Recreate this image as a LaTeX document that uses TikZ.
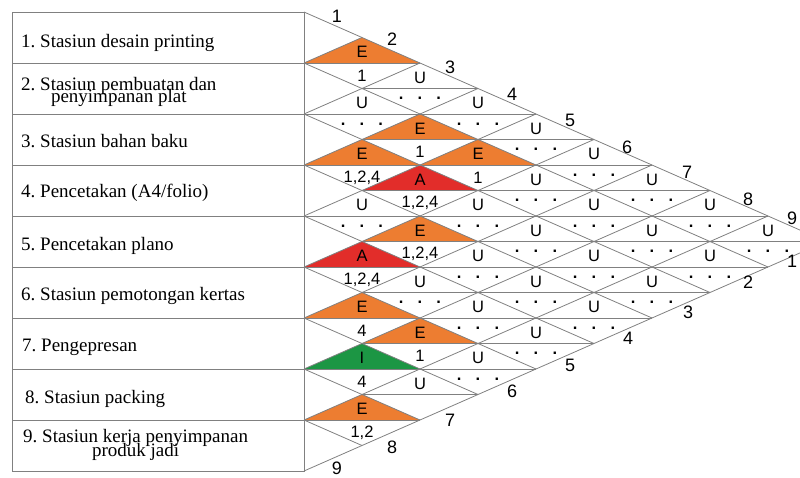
\documentclass[tikz,border=0pt]{standalone}
\usepackage{fontspec}
\setmainfont{Liberation Serif}
\newfontfamily\arialf{Liberation Sans}
\definecolor{cOrange}{RGB}{237,125,49}
\definecolor{cRed}{RGB}{226,45,42}
\definecolor{cGreen}{RGB}{28,150,68}
\definecolor{lineGray}{RGB}{128,128,128}
\frenchspacing
\newcommand\dotsmark{{\bfseries.\hspace{14.2pt}.\hspace{14.2pt}.}}
\newcommand\cellset[5]{%
  \expandafter\def\csname cu-#1-#2\endcsname{#3}%
  \expandafter\def\csname cc-#1-#2\endcsname{#4}%
  \expandafter\def\csname cl-#1-#2\endcsname{#5}}
\cellset{1}{2}{E}{cOrange}{1}
\cellset{3}{4}{E}{cOrange}{1,2,4}
\cellset{5}{6}{A}{cRed}{1,2,4}
\cellset{6}{7}{E}{cOrange}{4}
\cellset{7}{8}{I}{cGreen}{4}
\cellset{8}{9}{E}{cOrange}{1,2}
\cellset{2}{4}{E}{cOrange}{1}
\cellset{3}{5}{A}{cRed}{1,2,4}
\cellset{4}{6}{E}{cOrange}{1,2,4}
\cellset{6}{8}{E}{cOrange}{1}
\cellset{2}{5}{E}{cOrange}{1}
\cellset{7}{9}{U}{}{}
\begin{document}
\begin{tikzpicture}[x=1pt,y=-1pt,
  gridline/.style={draw=lineGray,line width=0.8pt},
  tblline/.style={draw=lineGray,line width=1pt},
  celltxt/.style={font=\arialf\fontsize{16.5}{18}\selectfont,inner sep=0pt},
  edgelbl/.style={font=\arialf\fontsize{18}{20}\selectfont,inner sep=0pt},
  rowtxt/.style={font=\fontsize{19}{22}\selectfont\frenchspacing,inner sep=0pt}]
\useasboundingbox (0,0) rectangle (800,477);
\clip (0,0) rectangle (800,477);
% coloured triangles
\foreach \i in {1,...,8}{
  \pgfmathtruncatemacro\ii{\i+1}
  \foreach \j in {\ii,...,9}{
    \pgfmathsetmacro\xc{304+58*(\j-\i)}
    \pgfmathsetmacro\yc{12+25.5*(\i+\j-1)}
    \ifcsname cc-\i-\j\endcsname
      \expandafter\let\expandafter\cellcol\csname cc-\i-\j\endcsname
    \else \let\cellcol\empty \fi
    \ifx\cellcol\empty\else
      \fill[fill=\cellcol] (\xc-58,\yc) -- (\xc,\yc-25.5) -- (\xc+58,\yc) -- cycle;
    \fi
  }
}
% diagonal lines
\foreach \j in {0,...,9}{
  \pgfmathsetmacro\yj{12+51*\j}
  \coordinate (b\j) at (304,\yj);
  \draw[gridline] (b\j) -- ++({58*(9-\j)},{25.5*(9-\j)});
  \draw[gridline] (b\j) -- ++({58*\j},{-25.5*\j});
}
% horizontal split lines and texts
\foreach \i in {1,...,8}{
  \pgfmathtruncatemacro\ii{\i+1}
  \foreach \j in {\ii,...,9}{
    \pgfmathsetmacro\xc{304+58*(\j-\i)}
    \pgfmathsetmacro\yc{12+25.5*(\i+\j-1)}
    \draw[gridline] (\xc-58,\yc) -- (\xc+58,\yc);
    \ifcsname cu-\i-\j\endcsname
      \expandafter\let\expandafter\cellup\csname cu-\i-\j\endcsname
      \expandafter\let\expandafter\celllow\csname cl-\i-\j\endcsname
    \else \def\cellup{U}\let\celllow\dotsmark \fi
    \ifx\celllow\dotsmark \def\loff{10}\else\def\loff{12.5}\fi
    \node[celltxt] (u\i-\j) at (\xc,\yc-11) {\cellup};
    \node[celltxt] (l\i-\j) at (\xc,\yc+\loff) {\celllow};
  }
}
% table
\draw[tblline] (12,12) rectangle (304,471);
\foreach \k in {1,...,8} \draw[tblline] (12,{12+51*\k}) -- (304,{12+51*\k});
\node[rowtxt,anchor=base west] (r1) at (21,47) {1. Stasiun desain printing};
\node[rowtxt,anchor=base west] (r2a) at (21,90) {2. Stasiun pembuatan dan};
\node[rowtxt,anchor=base] (r2b) at ([yshift=-12.5pt]r2a.base) {penyimpanan plat};
\node[rowtxt,anchor=base west] (r3) at (21,147) {3. Stasiun bahan baku};
\node[rowtxt,anchor=base west] (r4) at (21,197) {4. Pencetakan (A4/folio)};
\node[rowtxt,anchor=base west] (r5) at (21,250) {5. Pencetakan plano};
\node[rowtxt,anchor=base west] (r6) at (21,300) {6. Stasiun pemotongan kertas};
\node[rowtxt,anchor=base west] (r7) at (22,351.5) {7. Pengepresan};
\node[rowtxt,anchor=base west] (r8) at (25,403) {8. Stasiun packing};
\node[rowtxt,anchor=base west] (r9a) at (23,442.5) {9. Stasiun kerja penyimpanan};
\node[rowtxt,anchor=base] (r9b) at ([yshift=-13.5pt]r9a.base) {produk jadi};
% edge labels
\foreach \t/\px/\py in {1/337/16,2/392/39,3/450/67,4/512/94,5/570/120,6/627/147,7/687/172,8/748/199,9/792/218}
  \node[edgelbl] (top\t) at (\px,\py) {\t};
\foreach \t/\px/\py in {9/337/468,8/392/447,7/450/420,6/512/391,5/570/365,4/628/338,3/688/312,2/748/282,1/792/261}
  \node[edgelbl] (bot\t) at (\px,\py) {\t};
\end{tikzpicture}
\end{document}
